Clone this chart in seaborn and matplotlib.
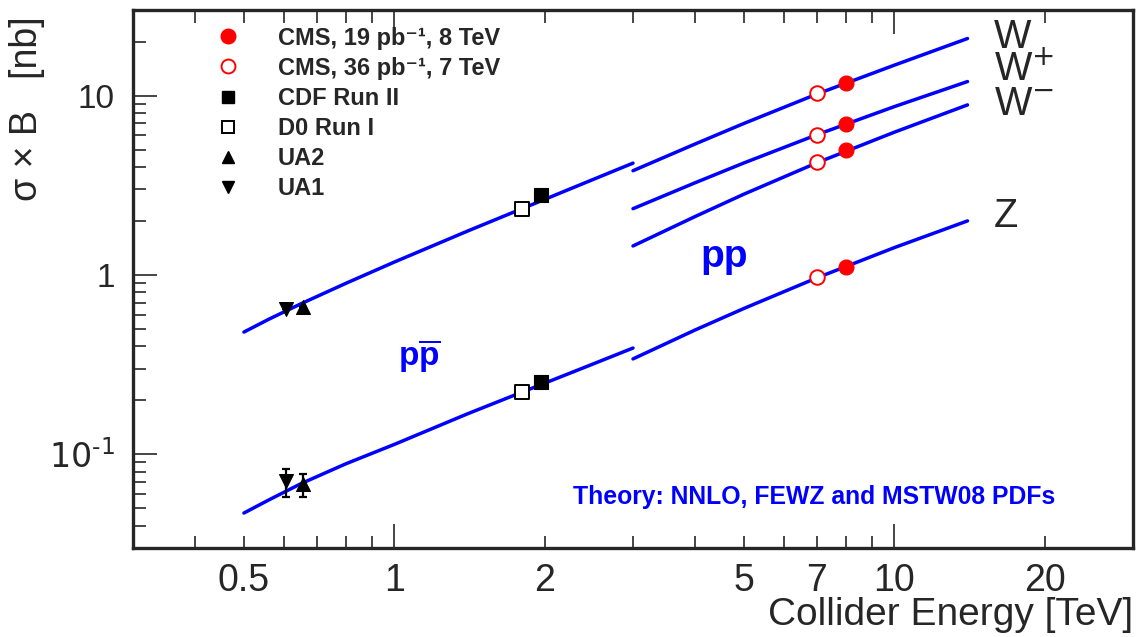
import numpy as np
import pandas as pd
import seaborn as sns
import matplotlib.pyplot as plt
from matplotlib.ticker import FixedLocator, FuncFormatter
from matplotlib.lines import Line2D

# theory curves, sigma x B in nb
e_ppbar = [0.5, 0.56, 0.65, 0.8, 1.0, 1.4, 1.8, 2.4, 3.0]
w_ppbar = [0.48, 0.565, 0.69, 0.898, 1.18, 1.755, 2.34, 3.255, 4.2]
z_ppbar = [0.047, 0.0555, 0.0685, 0.0885, 0.1135, 0.168, 0.222, 0.305, 0.391]

e_pp = [3.0, 4.0, 5.0, 7.0, 10.0, 14.0]
w_pp = [3.81, 5.38, 6.99, 10.2, 14.78, 20.8]
wplus_pp = [2.34, 3.27, 4.21, 6.05, 8.68, 11.97]
wminus_pp = [1.45, 2.12, 2.82, 4.22, 6.25, 8.87]
z_pp = [0.34, 0.494, 0.65, 0.963, 1.42, 2.0]

# measurements
cms8_x = [8.0, 8.0, 8.0, 8.0]
cms8_y = [11.8, 6.9, 4.95, 1.11]
cms7_x = [7.0, 7.0, 7.0, 7.0]
cms7_y = [10.3, 6.03, 4.24, 0.97]
cdf_x = [1.96, 1.96]
cdf_y = [2.80, 0.252]
d0_x = [1.8, 1.8]
d0_y = [2.34, 0.222]
ua2_x = [0.655, 0.655]
ua2_y = [0.66, 0.068]
ua2_err = [0.0, 0.010]
ua1_x = [0.608, 0.608]
ua1_y = [0.645, 0.0706]
ua1_err = [0.0, 0.0125]

curve_labels = ["W", "W$^{+}$", "W$^{-}$", "Z"]
curve_label_y = [21.3, 13.8, 9.0, 2.13]

sns.set_style("ticks")
plt.rcParams['font.family'] = ['Liberation Sans Narrow', 'Liberation Sans', 'DejaVu Sans']
plt.rcParams['mathtext.fontset'] = 'custom'
plt.rcParams['mathtext.rm'] = 'Liberation Sans Narrow'
plt.rcParams['mathtext.bf'] = 'Liberation Sans:bold'
plt.rcParams['mathtext.it'] = 'Liberation Sans:italic'

fig = plt.figure(figsize=(11.36, 6.37), dpi=100)
ax = fig.add_axes([133/1136, 1 - 548/637, 1000/1136, 538/637])

blue = (0, 0, 1)
for e, s in [(e_ppbar, w_ppbar), (e_ppbar, z_ppbar), (e_pp, w_pp),
             (e_pp, wplus_pp), (e_pp, wminus_pp), (e_pp, z_pp)]:
    sns.lineplot(x=e, y=s, ax=ax, color=blue, lw=2.5, zorder=2)

ms = 100
ax.errorbar(ua1_x, ua1_y, yerr=ua1_err, fmt='none', ecolor='black', elinewidth=1.6,
            capsize=3, capthick=1.6, zorder=3)
ax.errorbar(ua2_x, ua2_y, yerr=ua2_err, fmt='none', ecolor='black', elinewidth=1.6,
            capsize=3, capthick=1.6, zorder=3)
sns.scatterplot(x=cms8_x, y=cms8_y, ax=ax, marker='o', s=ms*1.15, color='red',
                edgecolor='red', zorder=4)
sns.scatterplot(x=cms7_x, y=cms7_y, ax=ax, marker='o', s=ms*1.1, facecolor='white',
                edgecolor='red', linewidth=1.4, zorder=4)
sns.scatterplot(x=cdf_x, y=cdf_y, ax=ax, marker='s', s=ms, color='black',
                edgecolor='black', zorder=4)
sns.scatterplot(x=d0_x, y=d0_y, ax=ax, marker='s', s=ms, facecolor='white',
                edgecolor='black', linewidth=1.4, zorder=4)
sns.scatterplot(x=ua2_x, y=ua2_y, ax=ax, marker='^', s=ms, color='black',
                edgecolor='black', zorder=4)
sns.scatterplot(x=ua1_x, y=ua1_y, ax=ax, marker='v', s=ms, color='black',
                edgecolor='black', zorder=4)

ax.set_xscale('log')
ax.set_yscale('log')
ax.set_xlim(0.3, 30)
ax.set_ylim(0.03, 30)

ax.xaxis.set_major_locator(FixedLocator([1, 10]))
ax.xaxis.set_minor_locator(FixedLocator([0.4, 0.5, 0.6, 0.7, 0.8, 0.9, 2, 3, 4, 5, 6, 7, 8, 9, 20]))
ax.xaxis.set_major_formatter(FuncFormatter(lambda v, p: f"{v:g}"))
ax.xaxis.set_minor_formatter(FuncFormatter(
    lambda v, p: f"{v:g}" if round(v, 3) in (0.5, 2, 5, 7, 20) else ""))
ax.yaxis.set_major_locator(FixedLocator([0.1, 1, 10]))
ax.yaxis.set_minor_locator(FixedLocator(
    [0.03, 0.04, 0.05, 0.06, 0.07, 0.08, 0.09, 0.2, 0.3, 0.4, 0.5, 0.6, 0.7, 0.8, 0.9,
     2, 3, 4, 5, 6, 7, 8, 9, 20, 30]))
ax.yaxis.set_major_formatter(FuncFormatter(
    lambda v, p: {0.1: r"$10^{\text{-}1}$", 1.0: "1", 10.0: "10"}.get(round(v, 3), "")))

ax.tick_params(which='both', direction='in', top=True, right=False, width=1.2)
ax.tick_params(which='major', length=17)
ax.tick_params(which='minor', length=9)
ax.tick_params(axis='x', which='both', pad=11, labelsize=27)
ax.tick_params(axis='y', which='both', pad=13, labelsize=24)
for sp in ax.spines.values():
    sp.set_linewidth(2.4)
    sp.set_visible(True)

ax.set_xlabel("Collider Energy [TeV]", fontsize=28, loc='right')
ax.xaxis.set_label_coords(1.0, -0.092)
ax.set_ylabel("σ × B   [nb]", fontsize=27, family='Liberation Sans')
ax.yaxis.set_label_coords(-0.088, 0.816)

for lab, yv in zip(curve_labels, curve_label_y):
    ax.text(15.8, yv, lab, fontsize=28.5, va='center', ha='left', family='Liberation Sans')

ax.text(4.56, 1.26, "pp", fontsize=28, color=blue, fontweight='bold',
        ha='center', va='center', family='Liberation Sans')
ax.text(1.12, 0.353, r"$\mathbf{p}\overline{\mathbf{p}}$", fontsize=24, color=blue,
        ha='center', va='center')
ax.text(0.44, 0.095, "Theory: NNLO, FEWZ and MSTW08 PDFs", transform=ax.transAxes,
        fontsize=17.8, color=blue, fontweight='bold', va='center', ha='left',
        family='Liberation Sans')

handles = [
    Line2D([], [], ls='none', marker='o', ms=10.5, color='red'),
    Line2D([], [], ls='none', marker='o', ms=10, mfc='white', mec='red', mew=1.4),
    Line2D([], [], ls='none', marker='s', ms=9, color='black'),
    Line2D([], [], ls='none', marker='s', ms=9, mfc='white', mec='black', mew=1.4),
    Line2D([], [], ls='none', marker='^', ms=9, color='black'),
    Line2D([], [], ls='none', marker='v', ms=9, color='black'),
]
labels = ["CMS, 19 pb\u207b\u00b9, 8 TeV", "CMS, 36 pb\u207b\u00b9, 7 TeV",
          "CDF Run II", "D0 Run I", "UA2", "UA1"]
leg = ax.legend(handles, labels, loc='upper left', bbox_to_anchor=(0.071, 0.991),
                frameon=False, handlelength=1.0, handletextpad=1.62, labelspacing=0.3,
                borderpad=0,
                prop={'family': ['Liberation Sans', 'DejaVu Sans'], 'weight': 'bold', 'size': 17})

fig.savefig("out.png", dpi=100)
